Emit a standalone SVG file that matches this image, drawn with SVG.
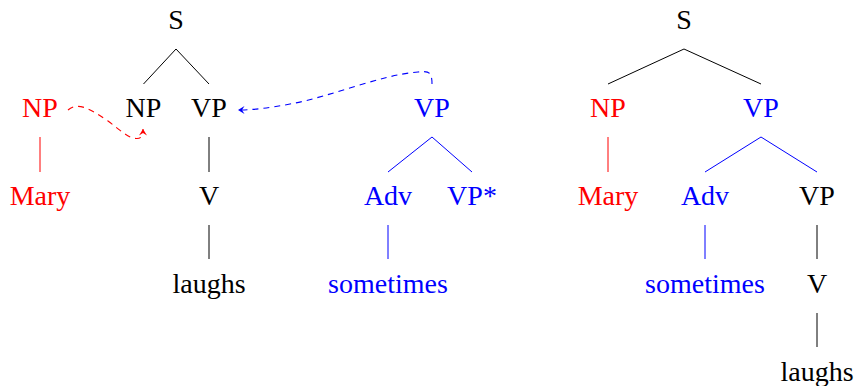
<svg xmlns="http://www.w3.org/2000/svg" width="858" height="386" viewBox="0 0 858 386">
<defs>
<style>
text{font-family:"Liberation Serif","Times New Roman",serif;font-size:28px;text-anchor:middle}
.k{fill:#000}.r{fill:#ff0000}.b{fill:#0000ff}
.e{fill:none;stroke-width:1}
.ek{stroke:#000}.er{stroke:#ff0000}.eb{stroke:#0000ff}
.d{fill:none;stroke-width:1.1;stroke-dasharray:6 5}
</style>
<marker id="ar" viewBox="-7 -5 8 10" markerWidth="8" markerHeight="10" refX="0" refY="0" orient="auto" markerUnits="userSpaceOnUse">
<path d="M-6.5,-4 L0,0 L-6.5,4 L-4,0 Z" fill="#ff0000"/>
</marker>
<marker id="ab" viewBox="-7 -5 8 10" markerWidth="8" markerHeight="10" refX="0" refY="0" orient="auto" markerUnits="userSpaceOnUse">
<path d="M-6.5,-4 L0,0 L-6.5,4 L-4,0 Z" fill="#0000ff"/>
</marker>
</defs>
<g id="connectors">
<path class="e ek" d="M176,49 L143.5,84 M176,49 L209,84 M209,137 L209,172 M209,225 L209,259"/>
<path class="e er" d="M40,137 L40,172"/>
<path class="e eb" d="M432,137 L388,172 M432,137 L472,172 M388,225 L388,259"/>
<path class="e ek" d="M684,49 L608,84 M684,49 L761,84 M817,225 L817,259 M817,313 L817,347"/>
<path class="e er" d="M608,137 L608,172"/>
<path class="e eb" d="M761,137 L705,172 M761,137 L817,172 M705,225 L705,259"/>
<path class="d er" d="M68,110 C78,101 92,110 108,121 C120,130 128,138 136,138.5 C141,139 143,136 143,129" marker-end="url(#ar)"/>
<path class="d eb" d="M432,84 C432,71 428,71 418,72 C380,75 330,97 290,104 C270,108 252,110 238,110" marker-end="url(#ab)"/>
</g>
<g id="t1">
<g id="S1"><text class="k" x="176" y="29">S</text></g>
<g id="NP1"><text class="k" x="143.5" y="117">NP</text></g>
<g id="VP1"><text class="k" x="209" y="117">VP</text></g>
<g id="V1"><text class="k" x="209" y="205">V</text></g>
<g id="laughs1"><text class="k" x="209" y="293">laughs</text></g>
</g>
<g id="t2">
<g id="NP2"><text class="r" x="40" y="117">NP</text></g>
<g id="Mary2"><text class="r" x="40" y="205">Mary</text></g>
</g>
<g id="t3">
<g id="VP3"><text class="b" x="432" y="117">VP</text></g>
<g id="Adv3"><text class="b" x="388" y="205">Adv</text></g>
<g id="VPstar3"><text class="b" x="472" y="205">VP*</text></g>
<g id="sometimes3"><text class="b" x="388" y="293">sometimes</text></g>
</g>
<g id="t4">
<g id="S4"><text class="k" x="684" y="29">S</text></g>
<g id="NP4"><text class="r" x="608" y="117">NP</text></g>
<g id="VP4"><text class="b" x="761" y="117">VP</text></g>
<g id="Mary4"><text class="r" x="608" y="205">Mary</text></g>
<g id="Adv4"><text class="b" x="705" y="205">Adv</text></g>
<g id="VPb4"><text class="k" x="817" y="205">VP</text></g>
<g id="sometimes4"><text class="b" x="705" y="293">sometimes</text></g>
<g id="V4"><text class="k" x="817" y="293">V</text></g>
<g id="laughs4"><text class="k" x="817" y="381">laughs</text></g>
</g>
</svg>
